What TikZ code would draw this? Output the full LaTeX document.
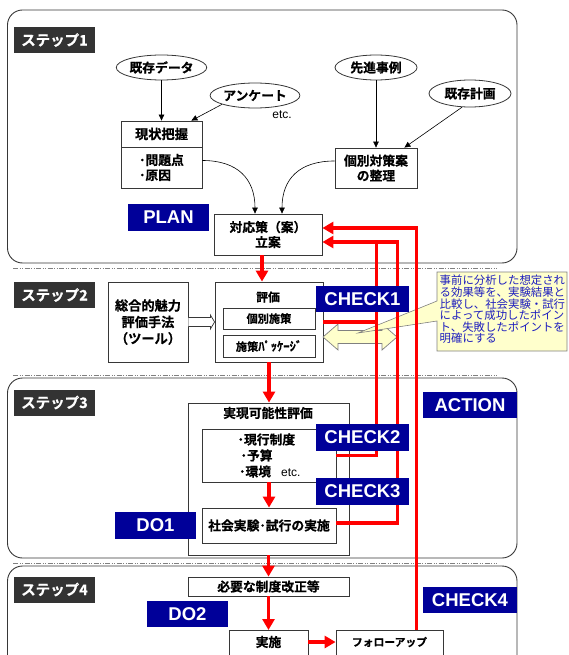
\documentclass[tikz,border=0pt]{standalone}
\usepackage{fontspec}
\setmainfont{Noto Sans CJK JP}[BoldFont={Noto Sans CJK JP Bold},BoldFeatures={FakeBold=0.6}]
\newfontfamily\lat{Liberation Sans}
\usetikzlibrary{arrows.meta,shapes.geometric,calc}
\definecolor{lblblue}{RGB}{0,0,153}
\definecolor{stepgray}{RGB}{51,51,51}
\definecolor{noteyel}{RGB}{255,255,204}
\definecolor{notetxt}{RGB}{30,30,190}
\definecolor{redline}{RGB}{255,0,0}
\definecolor{edge}{RGB}{55,55,55}
\begin{document}
\begin{tikzpicture}[x=1pt,y=-1pt,
 panel/.style={draw=edge,line width=0.9pt,rounded corners=15pt},
 sepline/.style={draw=gray,line width=0.8pt,dash pattern=on 5pt off 1.5pt on 1pt off 1.5pt on 1pt off 1.5pt},
 steplbl/.style={fill=stepgray,text=white,font=\bfseries\fontsize{14.5}{16}\selectfont,minimum width=81pt,minimum height=26pt,inner sep=0pt},
 bluelbl/.style={fill=lblblue,text=white,font=\lat\bfseries\fontsize{18.5}{20}\selectfont,minimum height=26.5pt,inner sep=0pt},
 box/.style={draw=edge,line width=0.8pt,fill=white,inner sep=0pt,font=\bfseries\fontsize{12.8}{15}\selectfont,align=center},
 oval/.style={ellipse,draw=edge,line width=0.8pt,fill=white,inner sep=0pt,font=\bfseries\fontsize{12.8}{15}\selectfont},
 txt/.style={inner sep=0pt,font=\bfseries\fontsize{12.8}{15}\selectfont,align=center},
 conn/.style={draw=black,line width=0.6pt,-{Triangle[length=6pt,width=5.5pt]}},
 redarr/.style={draw=redline,line width=3.2pt,-{Triangle[length=11pt,width=12pt]}},
 redln/.style={draw=redline,line width=3.2pt},
]
\useasboundingbox (0,0) rectangle (568,655);
\clip (0,0) rectangle (568,655);

% panels and separators
\draw[panel] (7.5,10) rectangle (517,263);
\draw[panel] (7.5,378) rectangle (517,558);
\draw[panel] (7.5,700) -- (7.5,566) -- (517,566) -- (517,700);
\draw[sepline] (13,268) -- (497,268);
\draw[sepline] (13,375) -- (497,375);
\draw[sepline] (13,563) -- (497,563);

% step labels
\node[steplbl] (s1) at (54.5,40) {ステップ1};
\node[steplbl] (s2) at (54.5,295) {ステップ2};
\node[steplbl] (s3) at (54.5,402.5) {ステップ3};
\node[steplbl] (s4) at (54.5,589.5) {ステップ4};

% step 1
\node[oval,minimum width=81pt,minimum height=25pt] (data) at (161.5,67.5) {既存データ};
\node[oval,minimum width=80pt,minimum height=25pt] (anq) at (255,95.5) {アンケート};
\node[inner sep=0pt,font=\lat\fontsize{12}{14}\selectfont] (etc1) at (282,115) {etc.};
\node[oval,minimum width=82pt,minimum height=25pt] (sensin) at (376,67.5) {先進事例};
\node[oval,minimum width=82pt,minimum height=27pt] (keikaku) at (470,93.5) {既存計画};
\node[box,minimum width=81pt,minimum height=26pt,font=\bfseries\fontsize{13.2}{15}\selectfont] (genjoA) at (161.5,134) {現状把握};
\node[box,minimum width=81pt,minimum height=41pt,align=left] (genjoB) at (161.5,167.5) {･問題点\\･原因};
\node[box,minimum width=82pt,minimum height=40pt] (kobetsu) at (376,168) {個別対策案\\の整理};
\node[box,minimum width=108pt,minimum height=41pt] (taio) at (268,234.5) {対応策（案）\\立案};
\node[bluelbl,minimum width=81pt] (plan) at (168.5,217.5) {PLAN};

\draw[conn] (data) -- (genjoA);
\draw[conn] (anq.195) -- ([xshift=-11pt]genjoA.north east);
\draw[conn] (sensin) -- (kobetsu);
\draw[conn] (keikaku.240) -- ([xshift=-13pt]kobetsu.north east);
\draw[conn] ([yshift=7pt]genjoB.east) .. controls +(35,0) and +(0,-35) .. ([xshift=-13pt]taio.north);
\draw[conn] ([yshift=7pt]kobetsu.west) .. controls +(-35,0) and +(0,-35) .. ([xshift=14pt]taio.north);

% step 2
\node[box,minimum width=80pt,minimum height=80pt,font=\bfseries\fontsize{13.2}{16.5}\selectfont] (sogo) at (148,322) {総合的魅力\\評価手法\\（ツール）};
\node[box,minimum width=108pt,minimum height=80pt] (hyoka) at (269,322) {};
\node[txt,font=\bfseries\fontsize{11.8}{13}\selectfont] (hyokaT) at (268,297) {評価};
\node[box,minimum width=92pt,minimum height=21pt,font=\bfseries\fontsize{11.2}{13}\selectfont] (kobshi) at (269,318.5) {個別施策};
\node[box,minimum width=92pt,minimum height=22pt,font=\bfseries\fontsize{11.2}{13}\selectfont] (pkg) at (269,346) {施策{\fontsize{12.5}{13}\selectfont ﾊﾟｯｹｰｼﾞ}};

\draw[draw=edge,line width=0.7pt,fill=white] ($(sogo.east)+(0,-4.5)$) -- ++(22,0) -- ++(0,-2.5) -- (hyoka.west) -- ($(sogo.east)+(22,7)$) -- ++(0,-2.5) -- ($(sogo.east)+(0,4.5)$);

% yellow double arrow and callout
\draw[draw=gray,line width=0.7pt,fill=noteyel] (323,337) -- (338,324) -- (338,330.5) -- (382,330.5) -- (382,324) -- (397,337) -- (382,350) -- (382,343.5) -- (338,343.5) -- (338,350) -- cycle;
\draw[draw=gray,line width=0.6pt,fill=noteyel] (437,272) -- (567,272) -- (567,351) -- (437,351) -- (437,321) -- (358,333) -- (437,301) -- cycle;
\node[inner sep=0pt,text=notetxt,font=\fontsize{11.4}{11.6}\selectfont,align=left,anchor=north west] (note) at (439.5,275) {事前に分析した想定され\\る効果等を、実験結果と\\比較し、社会実験・試行\\によって成功したポイン\\ト、失敗したポイントを\\明確にする};

% step 3
\node[box,minimum width=161pt,minimum height=152pt] (jitsugen) at (268.5,479) {};
\node[txt] (jitsugenT) at (268,413) {実現可能性評価};
\node[box,minimum width=134pt,minimum height=53pt,align=left,font=\bfseries\fontsize{12.8}{16}\selectfont] (genko) at (269,455.5) {･現行制度\\\hspace{3pt}･予算\\\hspace{1.5pt}･環境\hspace{10pt}{\lat\mdseries\fontsize{12}{16}\selectfont etc.}};
\node[box,minimum width=134pt,minimum height=35pt] (shakai) at (269,525.5) {社会実験･試行の実施};

% step 4
\node[box,minimum width=161pt,minimum height=19pt] (hitsuyo) at (268.5,586.5) {必要な制度改正等};
\node[box,minimum width=79pt,minimum height=40pt,anchor=north] (jisshi) at (268.5,630) {};
\node[txt] (jisshiT) at (268.5,642) {実施};
\node[box,minimum width=107pt,minimum height=40pt,anchor=north] (follow) at (389.5,630) {};
\node[txt,font=\bfseries\fontsize{10.8}{13}\selectfont] (followT) at (389.5,642) {フォローアップ};

% red connectors
\coordinate (cjoin) at (376.5,242);
\draw[redarr] ([xshift=-6pt]taio.south) -- ([xshift=-6pt]taio.south |- hyoka.north);
\draw[redarr] (hyoka.south) -- (hyoka.south |- jitsugen.north);
\draw[redarr] (genko.south) -- (shakai.north);
\draw[redarr] (jitsugen.south) -- (jitsugen.south |- hitsuyo.north);
\draw[redarr] (hitsuyo.south) -- (hitsuyo.south |- jisshi.north);
\draw[redarr] (jisshiT -| jisshi.east) -- (jisshiT -| follow.west);
\draw[redarr] ([xshift=27pt]follow.north) |- ([yshift=6.5pt]taio.east);
\draw[redarr] ([yshift=2.5pt]shakai.east) -- ++(61,0) |- ([yshift=-7.5pt]taio.east);
\draw[redln] (genko.east) -| (cjoin);
\draw[redln] (hyoka.east) -- (hyoka.east -| cjoin);

% blue labels
\node[bluelbl,minimum width=93pt] (chk1) at (362.5,299) {CHECK1};
\node[bluelbl,minimum width=93pt] (chk2) at (362.5,437.5) {CHECK2};
\node[bluelbl,minimum width=93pt] (chk3) at (362.5,491.5) {CHECK3};
\node[bluelbl,minimum width=94pt] (action) at (470,405) {ACTION};
\node[bluelbl,minimum width=94pt] (chk4) at (470,600) {CHECK4};
\node[bluelbl,minimum width=81pt] (do1) at (155.5,525.5) {DO1};
\node[bluelbl,minimum width=81pt] (do2) at (187.5,614) {DO2};
\end{tikzpicture}
\end{document}
